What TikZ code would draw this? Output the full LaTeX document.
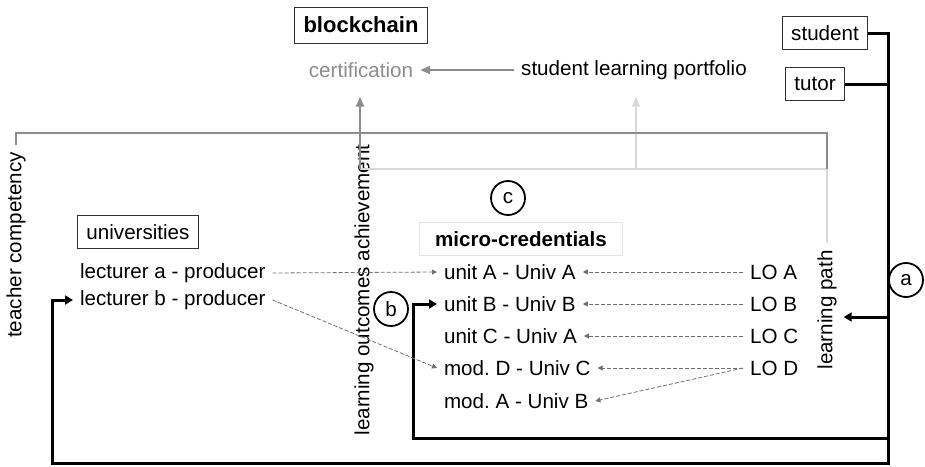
\documentclass[tikz,border=0pt]{standalone}
\usepackage{fontspec}
\setmainfont{Liberation Sans}
\usetikzlibrary{arrows.meta}
\frenchspacing

\definecolor{darkline}{HTML}{8C8C8C}
\definecolor{lightline}{HTML}{D9D9D9}
\definecolor{linkgray}{HTML}{707070}

\tikzset{
  lbl/.style={font=\fontsize{10.3}{12}\selectfont},
  labelbox/.style={lbl,draw=black!80,line width=0.5pt,inner xsep=4.5pt,minimum height=16.5pt},
  marker/.style={lbl,circle,draw,line width=0.9pt,minimum size=17pt,inner sep=0pt},
  feedback/.style={line width=1.5pt,-{Triangle[length=4pt,width=4.5pt]}},
  grayflow/.style={line width=1pt,-{Triangle[length=5pt,width=4pt]}},
  link/.style={linkgray,line width=0.4pt,dash pattern=on 2pt off 1pt,-{Triangle[length=2.5pt,width=2.5pt]}}
}

\begin{document}
\begin{tikzpicture}[x=0.5pt,y=-0.5pt]
    \useasboundingbox (0,0) rectangle (925,466);
    % blockchain part
    \node[labelbox,font=\fontsize{11}{13}\selectfont\bfseries,minimum height=18pt] (chain) at (361,25) {blockchain};
    \node[lbl,text=darkline] (cert) at (361,70) {certification};
    \node[lbl] (slp) at (634,70) {student learning portfolio};
    % actors
    \node[labelbox] (student) at (825,33) {student};
    \node[labelbox] (tutor) at (815,84) {tutor};
    \node[labelbox] (univ) at (138,232) {universities};
    \node[lbl,anchor=west] (lectA) at (73,273) {lecturer a - producer};
    \node[lbl,anchor=west] (lectB) at (73,300) {lecturer b - producer};
    % vertical labels
    \node[lbl,rotate=90] (tc) at (16,245) {teacher competency};
    \node[lbl,rotate=90] (loa) at (364,290) {learning outcomes achievement};
    \node[lbl,rotate=90] (lp) at (827,310) {learning path};
    % micro-credentials
    \node[labelbox,draw=black!10,inner xsep=8pt,font=\fontsize{10.3}{12}\selectfont\bfseries] (micro) at (521,239) {micro-credentials};
    \node[lbl,anchor=west] (unitA) at (437,272) {unit A - Univ A};
    \node[lbl,anchor=west] (unitB) at (437,304) {unit B - Univ B};
    \node[lbl,anchor=west] (unitC) at (437,336) {unit C - Univ A};
    \node[lbl,anchor=west] (modD) at (437,368) {mod. D - Univ C};
    \node[lbl,anchor=west] (modA) at (437,401) {mod. A - Univ B};
    \node[lbl,anchor=west] (loA) at (743,272) {LO A};
    \node[lbl,anchor=west] (loB) at (743,304) {LO B};
    \node[lbl,anchor=west] (loC) at (743,336) {LO C};
    \node[lbl,anchor=west] (loD) at (743,368) {LO D};
    % markers
    \node[marker] (ma) at (906,280) {a};
    \node[marker] (mb) at (391,309) {b};
    \node[marker] (mc) at (508,198) {c};
    % corner points
    \coordinate (spineBot) at (888,463);
    \coordinate (lpJoin) at (888,317);
    \coordinate (innerRight) at (888,438);
    \coordinate (innerLeft) at (413,438);
    \coordinate (outerLeft) at (52,463);
    \coordinate (frameTR) at (827,133);
    \coordinate (frameMR) at (827,169);
    \coordinate (frameML) at (360,169);
    \coordinate (portJoin) at (636,169);
    % gray feedback into the blockchain
    \draw[lightline,line width=1pt] (lp.east) -- (frameMR) -- (frameML);
    \draw[lightline,grayflow,shorten >=5pt] (portJoin) -- (slp.south -| portJoin);
    \draw[darkline,line width=1pt] (tc.east) |- (frameTR) -- (frameMR);
    \draw[darkline,grayflow,shorten >=6pt] (frameML) -- (cert.south -| frameML);
    \draw[darkline,grayflow] (slp.west) -- (cert.east);
    % black loops
    \draw[feedback] (student.east) -| (spineBot) -- (outerLeft) |- (lectB.west);
    \draw[line width=1.5pt] (tutor.east) -- (tutor.east -| spineBot);
    \draw[feedback] (lpJoin) -- (lp.south |- lpJoin);
    \draw[feedback] (innerRight) -- (innerLeft) |- (unitB.west);
    % dashed links
    \draw[link] (lectA.east) -- (unitA.west);
    \draw[link] (lectB.east) -- (modD.west);
    \draw[link] (loA.west) -- (unitA.east);
    \draw[link] (loB.west) -- (unitB.east);
    \draw[link] (loC.west) -- (unitC.east);
    \draw[link] (loD.west) -- (modD.east);
    \draw[link] (loD.west) -- (modA.east);
\end{tikzpicture}
\end{document}
